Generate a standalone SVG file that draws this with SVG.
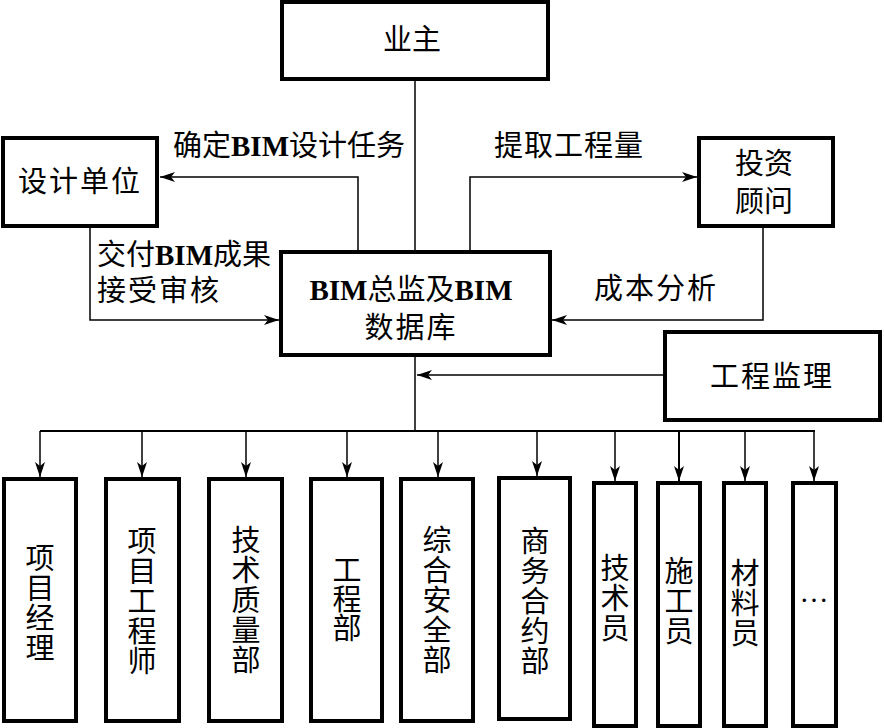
<svg xmlns="http://www.w3.org/2000/svg" width="884" height="728" viewBox="0 0 884 728">
<defs>
<style>
.box{fill:#fff;stroke:#000;stroke-width:4}
.ln{fill:none;stroke:#000;stroke-width:1.5}
.bus{fill:none;stroke:#000;stroke-width:2}
.t{font-family:"Liberation Serif","Noto Sans CJK SC",serif;font-size:29px;fill:#000;dominant-baseline:central}
.m{text-anchor:middle}
.b{font-weight:bold}
</style>
<marker id="ah" markerUnits="userSpaceOnUse" markerWidth="15" markerHeight="10" refX="15" refY="5" orient="auto">
<path d="M0,0 L15,5 L0,10 L4,5 z" fill="#000"/>
</marker>
</defs>
<rect width="884" height="728" fill="#fff"/>
<g id="connectors">
<line class="ln" x1="415" y1="80" x2="415" y2="251"/>
<polyline class="ln" points="358,251 358,177 160,177" marker-end="url(#ah)"/>
<polyline class="ln" points="470,251 470,177 697,177" marker-end="url(#ah)"/>
<polyline class="ln" points="90,227 90,320 279,320" marker-end="url(#ah)"/>
<polyline class="ln" points="763,227 763,320 552,320" marker-end="url(#ah)"/>
<line class="ln" x1="415" y1="356" x2="415" y2="431"/>
<line class="ln" x1="663" y1="375" x2="417" y2="375" marker-end="url(#ah)"/>
<line class="bus" x1="40" y1="431" x2="815" y2="431"/>
<line class="ln" x1="40" y1="431" x2="40" y2="477" marker-end="url(#ah)"/>
<line class="ln" x1="142" y1="431" x2="142" y2="477" marker-end="url(#ah)"/>
<line class="ln" x1="246" y1="431" x2="246" y2="477" marker-end="url(#ah)"/>
<line class="ln" x1="347" y1="431" x2="347" y2="477" marker-end="url(#ah)"/>
<line class="ln" x1="438" y1="431" x2="438" y2="477" marker-end="url(#ah)"/>
<line class="ln" x1="537" y1="431" x2="537" y2="476" marker-end="url(#ah)"/>
<line class="ln" x1="615" y1="431" x2="615" y2="481" marker-end="url(#ah)"/>
<line class="bus" x1="679" y1="431" x2="679" y2="481" marker-end="url(#ah)"/>
<line class="ln" x1="745" y1="431" x2="745" y2="481" marker-end="url(#ah)"/>
<line class="ln" x1="814" y1="431" x2="814" y2="481" marker-end="url(#ah)"/>
</g>
<g id="labels">
<text class="t" x="173" y="146">确定<tspan class="b">BIM</tspan>设计任务</text>
<text class="t" x="494" y="146" letter-spacing="1">提取工程量</text>
<text class="t" x="97" y="255">交付<tspan class="b">BIM</tspan>成果</text>
<text class="t" x="97" y="291" letter-spacing="2">接受审核</text>
<text class="t" x="594" y="289" letter-spacing="2">成本分析</text>
</g>
<g id="yezhu">
<rect class="box" x="282" y="2" width="266" height="77"/>
<text class="t m" x="412" y="40">业主</text>
</g>
<g id="sheji">
<rect class="box" x="3" y="138" width="154" height="88"/>
<text class="t m" x="80" y="182" letter-spacing="2">设计单位</text>
</g>
<g id="touzi">
<rect class="box" x="699" y="138" width="134" height="88"/>
<text class="t m" x="764" y="164">投资</text>
<text class="t m" x="764" y="202">顾问</text>
</g>
<g id="bim">
<rect class="box" x="281" y="252" width="269" height="103"/>
<text class="t m" x="411" y="290"><tspan class="b">BIM</tspan>总监及<tspan class="b">BIM</tspan></text>
<text class="t m" x="411" y="328" letter-spacing="2">数据库</text>
</g>
<g id="jianli">
<rect class="box" x="665" y="332" width="215" height="88"/>
<text class="t m" x="772" y="377" letter-spacing="2">工程监理</text>
</g>
<g id="n1">
<rect class="box" x="4" y="479" width="72" height="242"/>
<text class="t m" x="40" y="559">项<tspan x="40" dy="30">目</tspan><tspan x="40" dy="30">经</tspan><tspan x="40" dy="30">理</tspan></text>
</g>
<g id="n2">
<rect class="box" x="106" y="479" width="73" height="242"/>
<text class="t m" x="142" y="542">项<tspan x="142" dy="30">目</tspan><tspan x="142" dy="30">工</tspan><tspan x="142" dy="30">程</tspan><tspan x="142" dy="30">师</tspan></text>
</g>
<g id="n3">
<rect class="box" x="209" y="479" width="73" height="242"/>
<text class="t m" x="246" y="541">技<tspan x="246" dy="30">术</tspan><tspan x="246" dy="30">质</tspan><tspan x="246" dy="30">量</tspan><tspan x="246" dy="30">部</tspan></text>
</g>
<g id="n4">
<rect class="box" x="311" y="479" width="71" height="242"/>
<text class="t m" x="347" y="571">工<tspan x="347" dy="29">程</tspan><tspan x="347" dy="29">部</tspan></text>
</g>
<g id="n5">
<rect class="box" x="401" y="479" width="72" height="242"/>
<text class="t m" x="437" y="541">综<tspan x="437" dy="30">合</tspan><tspan x="437" dy="30">安</tspan><tspan x="437" dy="30">全</tspan><tspan x="437" dy="30">部</tspan></text>
</g>
<g id="n6">
<rect class="box" x="499" y="478" width="71" height="241"/>
<text class="t m" x="535" y="542">商<tspan x="535" dy="30">务</tspan><tspan x="535" dy="30">合</tspan><tspan x="535" dy="30">约</tspan><tspan x="535" dy="30">部</tspan></text>
</g>
<g id="n7">
<rect class="box" x="594" y="483" width="42" height="243"/>
<text class="t m" x="615" y="569">技<tspan x="615" dy="30">术</tspan><tspan x="615" dy="30">员</tspan></text>
</g>
<g id="n8">
<rect class="box" x="658" y="483" width="42" height="243"/>
<text class="t m" x="679" y="572">施<tspan x="679" dy="30">工</tspan><tspan x="679" dy="30">员</tspan></text>
</g>
<g id="n9">
<rect class="box" x="724" y="483" width="42" height="243"/>
<text class="t m" x="745" y="574">材<tspan x="745" dy="30">料</tspan><tspan x="745" dy="30">员</tspan></text>
</g>
<g id="n10">
<rect class="box" x="793" y="483" width="43" height="243"/>
<text class="t m" x="814" y="592">…</text>
</g>
</svg>
